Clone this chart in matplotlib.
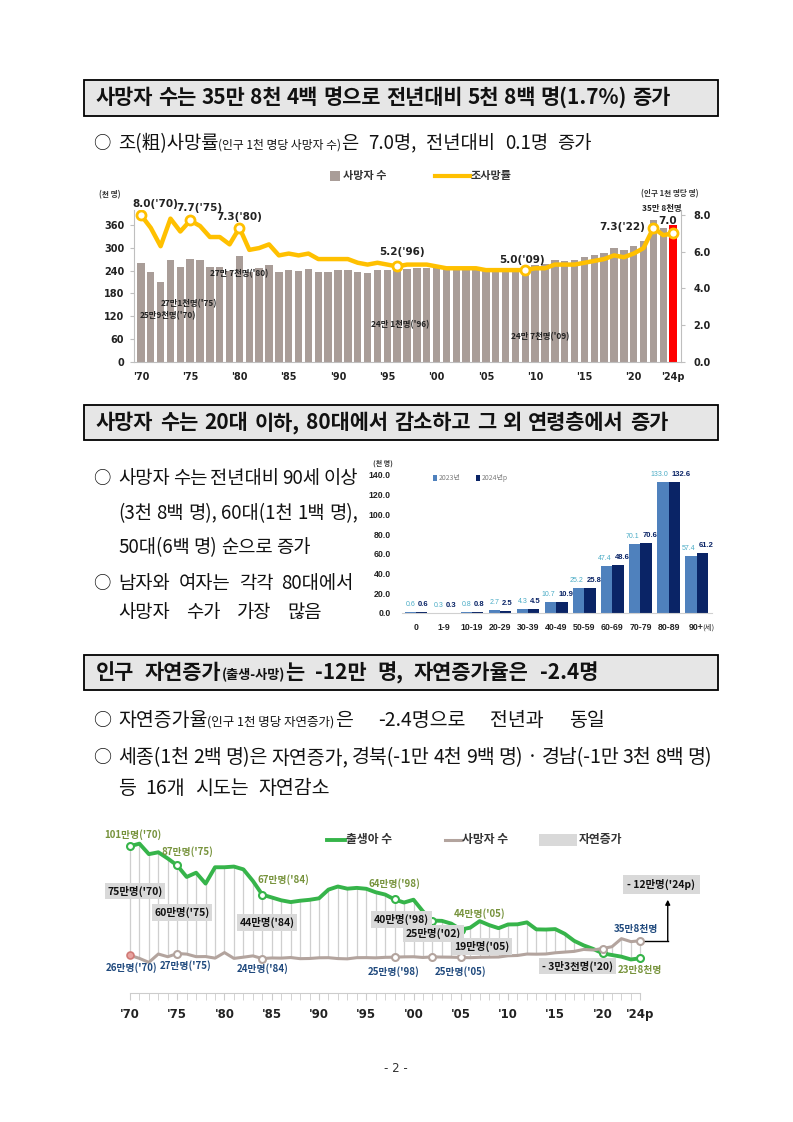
import matplotlib
matplotlib.use("Agg")
import matplotlib.pyplot as plt
from matplotlib.patches import Rectangle
from matplotlib.lines import Line2D
import numpy as np

plt.rcParams['font.family'] = ['Noto Sans CJK KR', 'DejaVu Sans']
plt.rcParams['axes.unicode_minus'] = False

W, H = 793, 1122
CJK = ['Noto Sans CJK KR', 'DejaVu Sans']
NUM = ['DejaVu Sans']
NARROW = ['Liberation Sans', 'DejaVu Sans']

# ---- data ----
years = np.arange(1970, 2025)
deaths = [258.6, 237.5, 210.1, 267.5, 248.8, 270.7, 266.9, 249.3, 250.1, 239.3,
          277.3, 237.5, 245.8, 254.6, 236.4, 240.4, 239.3, 243.5, 235.6, 236.8,
          241.6, 242.3, 236.2, 234.3, 242.4, 242.8, 241.1, 244.7, 245.8, 247.9,
          248.7, 243.8, 247.7, 246.5, 245.8, 243.9, 242.3, 245.0, 246.1, 246.9,
          255.4, 257.4, 267.2, 266.3, 267.7, 275.9, 280.8, 285.5, 298.8, 295.1,
          305.1, 317.7, 372.9, 352.5, 358.4]
crude_rate = [8.0, 7.3, 6.3, 7.8, 7.1, 7.7, 7.4, 6.8, 6.8, 6.4,
              7.3, 6.1, 6.2, 6.4, 5.8, 5.9, 5.8, 5.9, 5.6, 5.6,
              5.6, 5.6, 5.4, 5.3, 5.4, 5.3, 5.2, 5.3, 5.3, 5.3,
              5.2, 5.1, 5.1, 5.1, 5.1, 5.0, 5.0, 5.0, 5.0, 5.0,
              5.1, 5.1, 5.3, 5.3, 5.3, 5.4, 5.5, 5.6, 5.8, 5.7,
              5.9, 6.2, 7.3, 6.9, 7.0]
births = [1006.6, 1024.8, 952.8, 965.5, 922.8, 874.9, 796.3, 825.3, 750.7, 862.7,
          862.8, 867.4, 848.3, 769.2, 674.8, 655.5, 636.0, 623.8, 633.1, 639.4,
          649.7, 709.3, 730.7, 715.8, 721.2, 715.0, 691.2, 675.4, 641.6, 620.7,
          640.1, 559.9, 496.9, 495.0, 476.0, 435.0, 448.2, 493.2, 465.9, 444.8,
          470.2, 471.3, 484.6, 436.5, 435.4, 438.4, 406.2, 357.8, 326.8, 302.7,
          272.3, 260.6, 249.2, 230.0, 238.3]

tick_years = [1970, 1975, 1980, 1985, 1990, 1995, 2000, 2005, 2010, 2015, 2020, 2024]
tick_labels = ["'70", "'75", "'80", "'85", "'90", "'95", "'00", "'05", "'10", "'15", "'20", "'24p"]

age_groups = ['0', '1-9', '10-19', '20-29', '30-39', '40-49', '50-59', '60-69', '70-79', '80-89', '90+']
deaths_2023 = [0.6, 0.3, 0.8, 2.7, 4.3, 10.7, 25.2, 47.4, 70.1, 133.0, 57.4]
deaths_2024 = [0.6, 0.3, 0.8, 2.5, 4.5, 10.9, 25.8, 48.6, 70.6, 132.6, 61.2]

fig = plt.figure(figsize=(W / 100, H / 100), dpi=100)
R = fig.canvas.get_renderer()


def rect(x0, y0, x1, y1):
    return [x0 / W, 1 - y1 / H, (x1 - x0) / W, (y1 - y0) / H]


def write(x, y, parts, end=None, weight='normal', color='#111111', small_below=10):
    # lay out words on one baseline; big-size words are split at spaces and,
    # when an end position is given, the gaps are stretched to reach it
    toks = []
    for s, size in parts:
        if size >= small_below:
            words = s.split()
            for k, w in enumerate(words):
                gap = (k > 0) or (s[:1] == ' ')
                toks.append((w, size, gap))
        else:
            toks.append((s, size, s[:1] == ' '))
    arts = []
    widths = []
    for w, size, gap in toks:
        t = fig.text(0, 0, w, fontsize=size, fontweight=weight, family=CJK,
                     va='baseline', ha='left', color=color)
        arts.append(t)
        widths.append(t.get_window_extent(R).width)
    ngap = sum(1 for tk in toks if tk[2])
    nat = 0.3 * toks[0][1] * 100 / 72
    gapw = nat
    if end is not None and ngap:
        gapw = max((end - x - sum(widths)) / ngap, 0.4 * nat)
    for t, wd, tk in zip(arts, widths, toks):
        if tk[2]:
            x += gapw
        t.set_position((x / W, 1 - y / H))
        x += wd


def bullet(y, parts, end=None, size=14):
    fig.text(93 / W, 1 - y / H, "○", fontsize=size - 1, family=CJK,
             va='baseline', ha='left', color='#111111')
    write(118, y, parts, end=end)


def header(y0, y1, parts, end):
    fig.add_artist(Rectangle((84 / W, 1 - y1 / H), (718 - 84) / W, (y1 - y0) / H,
                             transform=fig.transFigure, facecolor='#e6e6e6',
                             edgecolor='black', lw=1.3))
    write(96, (y0 + y1) / 2 + 6.5, parts, end=end, weight='bold')


def fline(x0, x1, y, **kw):
    fig.add_artist(Line2D([x0 / W, x1 / W], [1 - y / H, 1 - y / H],
                          transform=fig.transFigure, **kw))


def fbox(x0, y0, x1, y1, color):
    fig.add_artist(Rectangle((x0 / W, 1 - y1 / H), (x1 - x0) / W, (y1 - y0) / H,
                             transform=fig.transFigure, facecolor=color, edgecolor='none'))


def ftext(x, y, s, **kw):
    fig.text(x / W, 1 - y / H, s, va='center', **kw)


BODY = 14
SIDE = 13.5
SMALL = 9

# ---- headers and body text ----
header(80, 116, [("사망자 수는 35만 8천 4백 명으로 전년대비 5천 8백 명(1.7%) 증가", 15)], end=670)
bullet(149, [("조(粗)사망률", 13.5), ("(인구 1천 명당 사망자 수)", 8.5),
             ("은 7.0명, 전년대비 0.1명 증가", 13.5)], end=592, size=13.5)

header(405, 440, [("사망자 수는 20대 이하, 80대에서 감소하고 그 외 연령층에서 증가", 15)], end=668)
bullet(484, [("사망자 수는 전년대비 90세 이상", SIDE)], end=358, size=SIDE)
write(118, 519, [("(3천 8백 명), 60대(1천 1백 명),", SIDE)], end=358)
write(118, 553, [("50대(6백 명) 순으로 증가", SIDE)], end=311)
bullet(589, [("남자와 여자는 각각 80대에서", SIDE)], end=354, size=SIDE)
write(118, 618, [("사망자 수가 가장 많음", SIDE)], end=322)

header(655, 690, [("인구 자연증가", 15), ("(출생-사망)", 9.5), ("는 -12만 명, 자연증가율은 -2.4명", 15)], end=598)
bullet(726, [("자연증가율", BODY), ("(인구 1천 명당 자연증가)", SMALL),
             ("은 -2.4명으로 전년과 동일", BODY)], end=605)
bullet(763, [("세종(1천 2백 명)은 자연증가, 경북(-1만 4천 9백 명) · 경남(-1만 3천 8백 명)", BODY)], end=712)
write(118, 794, [("등 16개 시도는 자연감소", BODY)], end=330)

ftext(396, 1068, "- 2 -", ha='center', fontsize=8.5, family=NUM, color='#333333')

# ---- chart 1: deaths and crude death rate ----
bar_col = '#a99d98'
yellow = '#ffc000'
ax1 = fig.add_axes(rect(134, 210, 681, 362))
colors = [bar_col] * (len(years) - 1) + ['#ff0000']
ax1.bar(years, deaths, width=0.75, color=colors, zorder=2)
ax1.set_xlim(1969.3, 2024.8)
ax1.set_ylim(0, 399)
ax1.set_yticks(range(0, 361, 60))
ax1.set_xticks(tick_years)
ax1.set_xticklabels(tick_labels)
for sp in ['top', 'right']:
    ax1.spines[sp].set_visible(False)
ax1.spines['left'].set_color('#bfbfbf')
ax1.spines['bottom'].set_color('#bfbfbf')
ax1.tick_params(axis='y', length=3, color='#bfbfbf', pad=4)
ax1.tick_params(axis='x', length=0, pad=7)
for lab in ax1.get_xticklabels() + ax1.get_yticklabels():
    lab.set_fontfamily(NUM)
    lab.set_fontweight('bold')
    lab.set_fontsize(7)
    lab.set_color('#222222')

ax1b = ax1.twinx()
ax1b.plot(years, crude_rate, color=yellow, lw=3.2, solid_capstyle='round',
          solid_joinstyle='round', zorder=3)
mark_years = [1970, 1975, 1980, 1996, 2009, 2022, 2024]
mi = [list(years).index(y) for y in mark_years]
ax1b.plot(years[mi], np.array(crude_rate)[mi], 'o', ms=6.5, mfc='white', mec=yellow, mew=2, zorder=4)
ax1b.set_ylim(0, 8.27)
ax1b.set_yticks([0, 2, 4, 6, 8])
ax1b.set_yticklabels(['0.0', '2.0', '4.0', '6.0', '8.0'])
for sp in ['top', 'left', 'bottom']:
    ax1b.spines[sp].set_visible(False)
ax1b.spines['right'].set_color('#bfbfbf')
ax1b.tick_params(axis='y', length=3, color='#bfbfbf', pad=6)
for lab in ax1b.get_yticklabels():
    lab.set_fontfamily(NUM)
    lab.set_fontweight('bold')
    lab.set_fontsize(7)
    lab.set_color('#222222')

rate_labels = [("8.0('70)", 1970, 14, 11), ("7.7('75)", 1975, 9, 12), ("7.3('80)", 1980, 0, 11),
               ("5.2('96)", 1996, 5, 14), ("5.0('09)", 2009, -3, 10), ("7.3('22)", 2022, -31, 1),
               ("7.0", 2024, -6, 12)]
for s, yr, dx, dy in rate_labels:
    i = list(years).index(yr)
    ax1b.annotate(s, (yr, crude_rate[i]), xytext=(dx, dy), textcoords='offset pixels',
                  ha='center', va='center', fontsize=7.5, fontweight='bold',
                  family=NUM, color='#222222', zorder=5)

bar_labels = [("25만9천명('70)", 1970, 27, -52), ("27만1천명('75)", 1975, -1, -45),
              ("27만 7천명('80)", 1980, 0, -17), ("24만 1천명('96)", 1996, 3, -55),
              ("24만 7천명('09)", 2009, 15, -69), ("35만 8천명", 2024, -11, 17)]
for s, yr, dx, dy in bar_labels:
    i = list(years).index(yr)
    ax1.annotate(s, (yr, deaths[i]), xytext=(dx, dy), textcoords='offset pixels',
                 ha='center', va='center', fontsize=6, fontweight='bold',
                 family=CJK, color='#222222', zorder=5)

fbox(330, 171, 340, 181, bar_col)
ftext(343, 176, "사망자 수", fontsize=8, fontweight='bold', family=CJK, color='#333333')
fline(435, 470, 176, color=yellow, lw=3)
ftext(471, 176, "조사망률", fontsize=8, fontweight='bold', family=CJK, color='#333333')
ftext(110, 195, "(천 명)", ha='center', fontsize=5.5, fontweight='bold', family=CJK, color='#333333')
ftext(670, 194, "(인구 1천 명당 명)", ha='center', fontsize=5.5, fontweight='bold', family=CJK, color='#333333')

# ---- chart 2: deaths by age ----
c23 = '#4f81bd'
c24 = '#0a2466'
ax2 = fig.add_axes(rect(402, 470, 712, 613))
xi = np.arange(len(age_groups))
ax2.bar(xi - 0.2, deaths_2023, 0.4, color=c23, zorder=2)
ax2.bar(xi + 0.2, deaths_2024, 0.4, color=c24, zorder=2)
ax2.set_xlim(-0.5, 10.55)
ax2.set_ylim(0, 145)
ax2.set_yticks(range(0, 141, 20))
ax2.set_yticklabels([f"{v:.1f}" for v in range(0, 141, 20)])
ax2.set_xticks(xi)
ax2.set_xticklabels(age_groups)
for sp in ['top', 'right', 'left']:
    ax2.spines[sp].set_visible(False)
ax2.spines['bottom'].set_color('#d0d0d0')
ax2.tick_params(axis='both', length=0)
ax2.tick_params(axis='y', pad=8)
ax2.tick_params(axis='x', pad=7)
for lab in ax2.get_xticklabels() + ax2.get_yticklabels():
    lab.set_fontfamily(NARROW)
    lab.set_fontweight('bold')
    lab.set_fontsize(6.3)
    lab.set_color('#222222')
for i in xi:
    s23 = f"{deaths_2023[i]:.1f}"
    s24 = f"{deaths_2024[i]:.1f}"
    ax2.annotate(s23, (i - 0.2, deaths_2023[i]), xytext=(-2 * (len(s23) - 3), 4),
                 textcoords='offset pixels', ha='center', va='bottom', fontsize=5,
                 family=NARROW, color='#4bacc6')
    ax2.annotate(s24, (i + 0.2, deaths_2024[i]), xytext=(1 + 3 * (len(s24) - 3), 4),
                 textcoords='offset pixels', ha='center', va='bottom', fontsize=5.5,
                 fontweight='bold', family=NARROW, color=c24)
fbox(433, 475, 437, 481, c23)
ftext(439, 478, "2023년", fontsize=5, family=CJK, color='#7f7f7f')
fbox(476, 475, 480, 481, c24)
ftext(482, 478, "2024년p", fontsize=5, family=CJK, color='#7f7f7f')
ftext(383, 463, "(천 명)", ha='center', fontsize=5, fontweight='bold', family=CJK, color='#333333')
ftext(708, 628, "(세)", ha='center', fontsize=5.5, family=CJK, color='#333333')

# ---- chart 3: births, deaths, natural increase ----
green = '#36b44a'
grey = '#b3a49e'
ax3 = fig.add_axes(rect(95, 820, 715, 993))
ax3.set_xlim(1966.3, 2031.9)
ax3.set_ylim(0, 1187)
b = np.array(births)
d = np.array(deaths)
ax3.vlines(years, np.minimum(b, d), np.maximum(b, d), color='#cfcfcf', lw=0.9, zorder=1)
ax3.plot(years, b, color=green, lw=2.8, solid_joinstyle='round', zorder=3)
ax3.plot(years, d, color=grey, lw=2.2, solid_joinstyle='round', zorder=3)
bm = [1970, 1975, 1984, 1998, 2002, 2005, 2020, 2024]
bi = [list(years).index(y) for y in bm]
ax3.plot(years[bi], b[bi], 'o', ms=5, mfc='white', mec=green, mew=1.5, zorder=4)
ax3.plot(years[bi[1:]], d[bi[1:]], 'o', ms=5, mfc='white', mec=grey, mew=1.5, zorder=4)
ax3.plot(years[bi[:1]], d[bi[:1]], 'o', ms=5, mfc='#e8a3a0', mec='#d07a76', mew=1.2, zorder=4)
ax3.set_xticks(tick_years)
ax3.set_xticklabels(tick_labels)
ax3.set_xticks(years, minor=True)
for sp in ['top', 'right', 'left']:
    ax3.spines[sp].set_visible(False)
ax3.spines['bottom'].set_color('#cccccc')
ax3.spines['bottom'].set_bounds(1970, 2024)
ax3.set_yticks([])
ax3.tick_params(axis='x', which='both', length=5, color='#cccccc', pad=6)
for lab in ax3.get_xticklabels():
    lab.set_fontfamily(NUM)
    lab.set_fontweight('bold')
    lab.set_fontsize(8.5)
    lab.set_color('#222222')

olive = '#77933c'
navy = '#1f497d'
birth_labels = [("101만명('70)", 1970, 3, 12), ("87만명('75)", 1975, 10, 14),
                ("67만명('84)", 1984, 21, 15), ("64만명('98)", 1998, 0, 16),
                ("44만명('05)", 2005, 19, 16), ("23만8천명", 2024, 0, -12)]
for s, yr, dx, dy in birth_labels:
    i = list(years).index(yr)
    ax3.annotate(s, (yr, births[i]), xytext=(dx, dy), textcoords='offset pixels',
                 ha='center', va='center', fontsize=7, fontweight='bold', family=CJK, color=olive)
death_labels = [("26만명('70)", 1970, 2, -12), ("27만명('75)", 1975, 8, -12),
                ("24만명('84)", 1984, 0, -10), ("25만명('98)", 1998, -1, -14),
                ("25만명('05)", 2005, 0, -14), ("35만8천명", 2024, -4, 12)]
for s, yr, dx, dy in death_labels:
    i = list(years).index(yr)
    ax3.annotate(s, (yr, deaths[i]), xytext=(dx, dy), textcoords='offset pixels',
                 ha='center', va='center', fontsize=7, fontweight='bold', family=CJK, color=navy)
gap_labels = [("75만명('70)", 1970, 5, -45), ("60만명('75)", 1975, 5, -47),
              ("44만명('84)", 1984, 5, -28), ("40만명('98)", 1998, 7, -20),
              ("25만명('02)", 2002, 1, -13), ("19만명('05)", 2005, 21, -17),
              ("- 3만3천명('20)", 2020, -25, -13)]
for s, yr, dx, dy in gap_labels:
    i = list(years).index(yr)
    ax3.annotate(s, (yr, births[i]), xytext=(dx, dy), textcoords='offset pixels',
                 ha='center', va='center', fontsize=7.5, fontweight='bold', family=CJK,
                 color='#111111', zorder=6,
                 bbox=dict(boxstyle='square,pad=0.25', fc='#d9d9d9', ec='none'))
ax3.annotate("- 12만명('24p)", (2024, deaths[-1]), xytext=(21, 56), textcoords='offset pixels',
             ha='center', va='center', fontsize=7.5, fontweight='bold', family=CJK,
             color='#111111', zorder=6,
             bbox=dict(boxstyle='square,pad=0.4', fc='#d9d9d9', ec='none'))
ax3.plot([2024.5, 2026.9], [deaths[-1], deaths[-1]], color='black', lw=1, zorder=5)
ax3.annotate('', xy=(2026.9, 640), xytext=(2026.9, deaths[-1]),
             arrowprops=dict(arrowstyle='-|>', color='black', lw=1, mutation_scale=7,
                             shrinkA=0, shrinkB=0), zorder=5)

fline(327, 345, 840, color=green, lw=2.8)
ftext(346, 840, "출생아 수", fontsize=8.5, fontweight='bold', family=CJK, color='#333333')
fline(445, 461, 840, color=grey, lw=2.2)
ftext(462, 840, "사망자 수", fontsize=8.5, fontweight='bold', family=CJK, color='#333333')
fbox(539, 834, 577, 846, '#d9d9d9')
ftext(579, 840, "자연증가", fontsize=8.5, fontweight='bold', family=CJK, color='#333333')

fig.savefig("out.png", dpi=100)
